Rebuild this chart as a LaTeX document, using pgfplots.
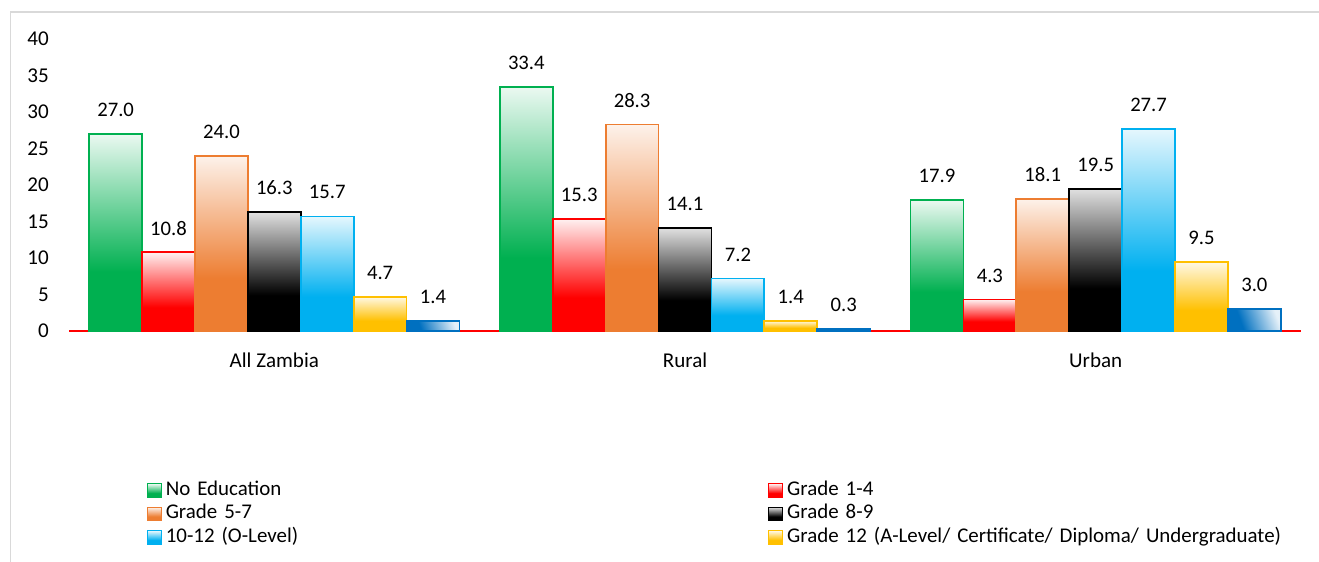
\documentclass[border=0pt]{standalone}
\usepackage{pgfplots}
\pgfplotsset{compat=1.18}
\usepackage{fontspec}
\setmainfont{Carlito}
\definecolor{cGreen}{HTML}{00B050}
\definecolor{cRed}{HTML}{FF0000}
\definecolor{cOrange}{HTML}{ED7D31}
\definecolor{cBlack}{HTML}{000000}
\definecolor{cCyan}{HTML}{00B0F0}
\definecolor{cYellow}{HTML}{FFC000}
\definecolor{cBlue}{HTML}{0070C0}
\definecolor{frameGray}{HTML}{D9D9D9}
\pgfdeclareverticalshading{shGreen}{100bp}{color(0bp)=(cGreen); color(40bp)=(cGreen); color(75bp)=(cGreen!8); color(100bp)=(cGreen!8)}
\pgfdeclareverticalshading{shRed}{100bp}{color(0bp)=(cRed); color(40bp)=(cRed); color(75bp)=(cRed!6); color(100bp)=(cRed!6)}
\pgfdeclareverticalshading{shOrange}{100bp}{color(0bp)=(cOrange); color(40bp)=(cOrange); color(75bp)=(cOrange!10); color(100bp)=(cOrange!10)}
\pgfdeclareverticalshading{shBlack}{100bp}{color(0bp)=(cBlack); color(40bp)=(cBlack); color(75bp)=(black!12); color(100bp)=(black!12)}
\pgfdeclareverticalshading{shCyan}{100bp}{color(0bp)=(cCyan); color(40bp)=(cCyan); color(75bp)=(cCyan!10); color(100bp)=(cCyan!10)}
\pgfdeclareverticalshading{shYellow}{100bp}{color(0bp)=(cYellow); color(40bp)=(cYellow); color(75bp)=(cYellow!10); color(100bp)=(cYellow!10)}
\pgfdeclarehorizontalshading{shBlue}{100bp}{color(0bp)=(cBlue); color(35bp)=(cBlue); color(75bp)=(cBlue!10); color(100bp)=(cBlue!10)}
\pgfplotsset{
  sGreen/.style={bar shift=-0.3864, draw=cGreen, shading=shGreen},
  sRed/.style={bar shift=-0.2576, draw=cRed, shading=shRed},
  sOrange/.style={bar shift=-0.1288, draw=cOrange, shading=shOrange},
  sBlack/.style={bar shift=0, draw=cBlack, shading=shBlack},
  sCyan/.style={bar shift=0.1288, draw=cCyan, shading=shCyan},
  sYellow/.style={bar shift=0.2576, draw=cYellow, shading=shYellow},
  sBlue/.style={bar shift=0.3864, draw=cBlue, shading=shBlue, shading angle=20},
}
\begin{document}
\begin{tikzpicture}
\useasboundingbox (0pt,0pt) rectangle (989.25pt,420.75pt);
\draw[frameGray, line width=1.2pt] (7.875pt,-20pt) -- (7.875pt,411.75pt) -- (1050pt,411.75pt);
\begin{axis}[
  at={(51.75pt,172.5pt)}, anchor=south west,
  scale only axis, width=924pt, height=219pt,
  xmin=-0.5, xmax=2.5, ymin=0, ymax=40,
  ybar, bar width=0.1288,
  axis x line*=bottom, axis y line*=left,
  y axis line style={draw=none},
  x axis line style={cRed, line width=2.2pt, -},
  tick style={draw=none}, major tick length=0pt,
  xtick={0,1,2}, xticklabels={All Zambia, Rural, Urban},
  ytick={0,5,...,40},
  /pgf/number format/assume math mode=true,
  tick label style={font=\fontsize{15.8}{18}\selectfont},
  xticklabel style={anchor=center, yshift=-21.75pt},
  yticklabel style={inner sep=0pt, xshift=-14.5pt},
  line width=1.3pt,
  nodes near coords={\pgfmathprintnumber[fixed,fixed zerofill,precision=1,assume math mode=true]{\pgfplotspointmeta}},
  every node near coord/.append style={font=\fontsize{15.5}{18}\selectfont, text=black, anchor=center, yshift=18pt},
  legend columns=2,
  legend cell align=left,
  legend image code/.code={\draw[#1, line width=0.6pt] (0pt,-5pt) rectangle (10.5pt,5pt);},
  legend style={at={(rel axis cs:0.0633,-0.5060)}, anchor=north west, draw=none, fill=none,
    inner sep=0pt, outer sep=0pt, row sep=0pt,
    font=\fontsize{15.7}{18}\selectfont,
    nodes={inner sep=0pt, text height=12.5pt, text depth=5.1pt, text width=452pt, align=left},
    /tikz/every odd column/.style={column sep=3pt}},
]
% All Zambia
\addplot[sGreen] coordinates {(0,27.0)};
\addplot[sRed] coordinates {(0,10.8)};
\addplot[sOrange] coordinates {(0,24.0)};
\addplot[sBlack] coordinates {(0,16.3)};
\addplot[sCyan] coordinates {(0,15.7)};
\addplot[sYellow] coordinates {(0,4.7)};
\addplot[sBlue] coordinates {(0,1.4)};
% Rural
\addplot[sGreen, forget plot] coordinates {(1,33.4)};
\addplot[sRed, forget plot] coordinates {(1,15.3)};
\addplot[sOrange, forget plot] coordinates {(1,28.3)};
\addplot[sBlack, forget plot] coordinates {(1,14.1)};
\addplot[sCyan, forget plot] coordinates {(1,7.2)};
\addplot[sYellow, forget plot] coordinates {(1,1.4)};
\addplot[sBlue, forget plot] coordinates {(1,0.3)};
% Urban
\addplot[sGreen, forget plot] coordinates {(2,17.9)};
\addplot[sRed, forget plot] coordinates {(2,4.3)};
\addplot[sOrange, forget plot] coordinates {(2,18.1)};
\addplot[sBlack, forget plot] coordinates {(2,19.5)};
\addplot[sCyan, forget plot] coordinates {(2,27.7)};
\addplot[sYellow, forget plot] coordinates {(2,9.5)};
\addplot[sBlue, forget plot] coordinates {(2,3.0)};
\legend{No Education, Grade 1-4, Grade 5-7, Grade 8-9, 10-12 (O-Level), Grade 12 (A-Level/ Certificate/ Diploma/ Undergraduate)}
\end{axis}
\end{tikzpicture}
\end{document}
